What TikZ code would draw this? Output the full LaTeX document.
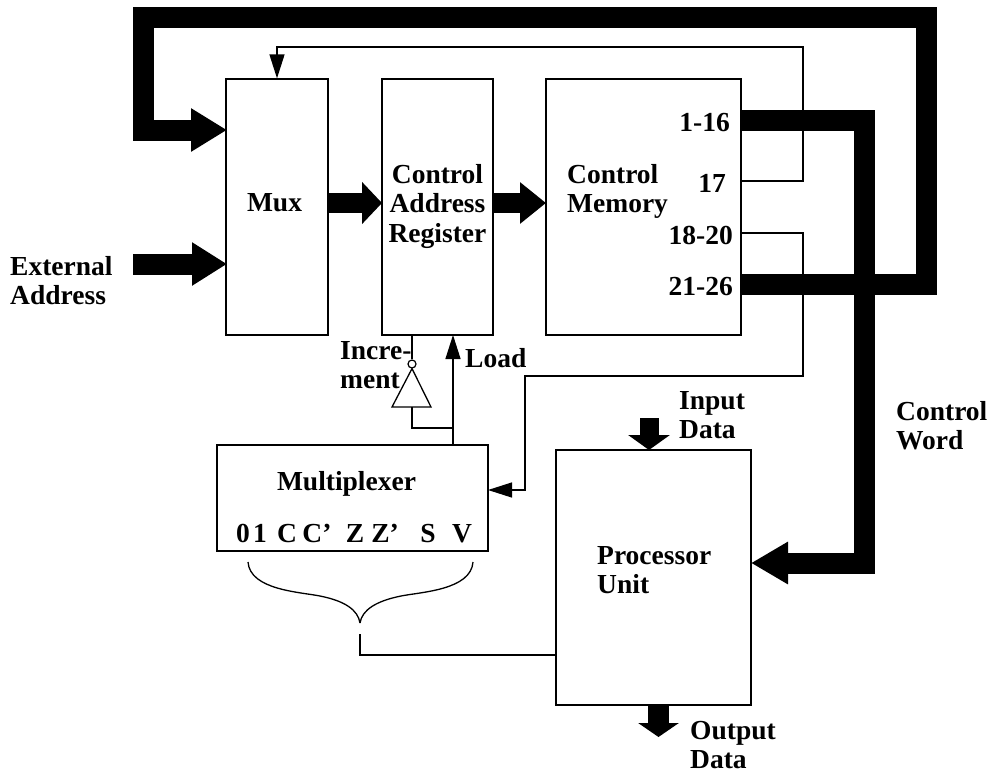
\documentclass[tikz,border=0pt]{standalone}
\usepackage{fontspec}
\setmainfont{Liberation Serif}
\usetikzlibrary{arrows.meta}
\begin{document}
\begin{tikzpicture}[x=1pt,y=-1pt,
  box/.style={draw, line width=1.3pt, inner sep=0pt},
  lbl/.style={font=\fontsize{27.5}{29.5}\selectfont\bfseries, inner sep=0pt, align=left},
  bus/.style={line width=21pt, line join=miter},
  wire/.style={line width=1.3pt},
  warrow/.style={wire, -{Triangle[length=24pt,width=15pt]}}]
\useasboundingbox[fill=white] (0,0) rectangle (992,774);

% boxes
\node[box, minimum width=102pt, minimum height=256pt] (mux) at (277,207) {};
\node[box, minimum width=111pt, minimum height=256pt] (car) at (437.5,207) {};
\node[box, minimum width=195pt, minimum height=256pt] (cm) at (643.5,207) {};
\node[box, minimum width=271pt, minimum height=106pt] (mplx) at (352.5,498) {};
\node[box, minimum width=195pt, minimum height=255pt] (pu) at (653.5,577.5) {};

% port coordinates
\coordinate (o116) at (741,120);
\coordinate (o17) at (741,181);
\coordinate (o1820) at (741,233);
\coordinate (o2126) at (741,284);
\coordinate (muxin) at (227,130);
\coordinate (muxext) at (227,264);
\coordinate (extsrc) at (133,264);
\coordinate (muxout) at (328,203);
\coordinate (carin) at (382,203);
\coordinate (carout) at (493,203);
\coordinate (cmin) at (546,203);
\coordinate (puin) at (751,563);
\coordinate (mplxin) at (488,490);
\coordinate (carinc) at (412,335);
\coordinate (carload) at (453,335);
\coordinate (mplxout) at (453,445);
\coordinate (invin) at (412,407);
\coordinate (bracetip) at (360,634);
\coordinate (puflag) at (556,655);
\coordinate (indsrc) at (649,418);
\coordinate (pudin) at (649,450);
\coordinate (pudout) at (658.5,705);
\coordinate (outdst) at (658.5,737);

% thick buses
\draw[bus, -{Triangle[length=36pt,width=41pt]}] (o2126) -- (926.5,284) -- (926.5,17) -- (143.5,17) -- (143.5,130) -- (muxin);
\draw[bus, -{Triangle[length=37pt,width=40pt]}] (o116) -- (864.5,120) -- (864.5,563) -- (puin);
\draw[bus, -{Triangle[length=35pt,width=41pt]}] (extsrc) -- (muxext);
\draw[line width=20pt, -{Triangle[length=20pt,width=41pt]}] (muxout) -- (carin);
\draw[line width=20pt, -{Triangle[length=26pt,width=40pt]}] (carout) -- (cmin);
\draw[line width=19pt, -{Triangle[length=15pt,width=41pt]}] (indsrc) -- (pudin);
\draw[bus, -{Triangle[length=14pt,width=40pt]}] (pudout) -- (outdst);

% thin wires
\draw[warrow] (o17) -- (803,181) -- (803,47) -- (277,47) -- (mux.north);
\draw[warrow] (o1820) -- (803,233) -- (803,376) -- (525,376) -- (525,490) -- (mplxin);
\node[draw, circle, inner sep=0pt, minimum size=8pt, line width=1.2pt] (bub) at (412,364) {};
\draw[wire] (carinc) -- (bub.north);
\draw[wire, line join=miter] (bub.south) -- (431,407) -- (392,407) -- cycle;
\draw[wire] (invin) -- (412,428) -- (453,428);
\draw[warrow] (mplxout) -- (carload);

% brace
\draw[wire] (248,562) .. controls (250,590) and (300,592) .. (320,596)
  .. controls (345,601) and (358,610) .. (360,623);
\draw[wire] (473,562) .. controls (471,590) and (421,592) .. (401,596)
  .. controls (376,601) and (362,610) .. (360,623);
\draw[wire] (bracetip) -- (360,655) -- (puflag);

% labels
\node[lbl] (tmux) at (274.5,203) {Mux};
\node[lbl, anchor=north, align=center] (tcar) at (437.5,164) {Control\\Address\\Register};
\node[lbl, anchor=north west] (tcm) at (567,164) {Control\\Memory};
\node[lbl, anchor=east] (t116) at (730,123) {1-16};
\node[lbl, anchor=east] (t17) at (726,183) {17};
\node[lbl, anchor=east] (t1820) at (733,235) {18-20};
\node[lbl, anchor=east] (t2126) at (733,287) {21-26};
\node[lbl, anchor=north west] (text) at (10,256) {External\\Address};
\node[lbl, anchor=north west] (tinc) at (340,341) {Incre-\\ment};
\node[lbl, anchor=base west] (tload) at (465,367) {Load};
\node[lbl, anchor=base] (tmplx) at (346.5,490) {Multiplexer};
\node[lbl, anchor=base] (s0) at (243,542) {0};
\node[lbl, anchor=base] (s1) at (260,542) {1};
\node[lbl, anchor=base] (s2) at (287,542) {C};
\node[lbl, anchor=base] (s3) at (317,542) {C’};
\node[lbl, anchor=base] (s4) at (355,542) {Z};
\node[lbl, anchor=base] (s5) at (385,542) {Z’};
\node[lbl, anchor=base] (s6) at (428,542) {S};
\node[lbl, anchor=base] (s7) at (462,542) {V};
\node[lbl, anchor=north west] (tpu) at (597,546) {Processor\\Unit};
\node[lbl, anchor=north west] (tin) at (679,391) {Input\\Data};
\node[lbl, anchor=north west] (tcw) at (896,401) {Control\\Word};
\node[lbl, anchor=north west] (tout) at (690,721) {Output\\Data};
\end{tikzpicture}
\end{document}
